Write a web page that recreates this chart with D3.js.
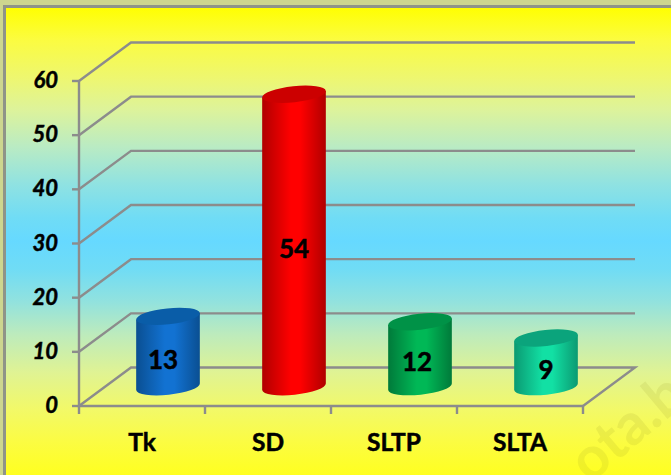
<!DOCTYPE html>
<html>

<head>
    <meta charset="utf-8">
    <title>3D Cylinder Chart</title>
    <script src="https://d3js.org/d3.v7.min.js"></script>
    <style>
        html, body {
            margin: 0;
            padding: 0;
            background: #cdd68f;
            overflow: hidden;
        }

        svg {
            display: block;
            font-family: Lato, sans-serif;
            font-weight: 700;
        }

        .grid {
            fill: none;
            stroke: #8c8c8c;
            stroke-width: 2.4;
        }

        .ylabel, .xlabel, .value {
            stroke: #000;
            stroke-width: 0.5;
        }
    </style>
</head>

<body>
    <svg width="671" height="475"></svg>

    <script>
        const categories = ["Tk", "SD", "SLTP", "SLTA"];
        const values = [13, 54, 12, 9];
        const yTicks = [0, 10, 20, 30, 40, 50, 60];
        const barLight = ["#1272d2", "#ff0000", "#00b856", "#12e0a4"];
        const barDark = ["#0a4f92", "#b00000", "#007a3a", "#0b9a72"];
        const barTop = ["#0a5da8", "#cc0000", "#009247", "#0ba47c"];

        const svg = d3.select("svg");

        const x = d3.scaleBand().domain(categories).range([79, 583]);
        const y = d3.scaleLinear().domain([0, 60]).range([406, 81]);

        // depth of the fake 3D box
        const dx = 52, dy = -38.5;
        const rx = 32, ry = 8, tilt = -6;

        // value labels are not quite centred in the original
        const labelNudge = [-5, 0, -3, 0];

        const defs = svg.append("defs");

        // office style gradient, goes through pale green instead of saturated green
        const bg = defs.append("linearGradient").attr("id", "bg")
            .attr("gradientUnits", "userSpaceOnUse")
            .attr("x1", 0).attr("y1", 7).attr("x2", 0).attr("y2", 475);
        const bgStops = [
            [0, "#ffff00"], [0.07, "#fbfc40"], [0.15, "#eef76f"], [0.22, "#ddf39b"],
            [0.3, "#b9ebc4"], [0.38, "#8fe2e2"], [0.45, "#70dcf5"], [0.5, "#66d9ff"],
            [0.56, "#70dcf5"], [0.63, "#92e2de"], [0.7, "#bdebbc"], [0.78, "#dff394"],
            [0.86, "#f2f968"], [0.93, "#fbfc42"], [1, "#ffff20"]
        ];
        bgStops.forEach(s => bg.append("stop").attr("offset", s[0]).attr("stop-color", s[1]));

        categories.forEach((c, i) => {
            const g = defs.append("linearGradient").attr("id", "bar" + i)
                .attr("x1", 0).attr("y1", 0).attr("x2", 1).attr("y2", 0);
            g.append("stop").attr("offset", "0%").attr("stop-color", barDark[i]);
            g.append("stop").attr("offset", "45%").attr("stop-color", barLight[i]);
            g.append("stop").attr("offset", "60%").attr("stop-color", barLight[i]);
            g.append("stop").attr("offset", "100%").attr("stop-color", barDark[i]);
        });

        // background panel, runs off the right and bottom edge
        svg.append("rect")
            .attr("x", 4.5).attr("y", 6.5)
            .attr("width", 680).attr("height", 480)
            .attr("fill", "url(#bg)")
            .attr("stroke", "#8f9488")
            .attr("stroke-width", 3);

        // watermark, cut off in the original
        svg.append("text")
            .attr("transform", "translate(590,484) rotate(-40)")
            .attr("font-size", 58)
            .attr("fill", "#8a8a20")
            .attr("fill-opacity", 0.12)
            .text("ota.b");

        // gridlines: side wall and back wall
        yTicks.forEach(t => {
            const yFront = y(t);
            const line = t === 0
                ? [[x.range()[0], yFront], [x.range()[0] + dx, yFront + dy], [x.range()[1] + dx, yFront + dy], [x.range()[1], yFront]]
                : [[x.range()[0], yFront], [x.range()[0] + dx, yFront + dy], [x.range()[1] + dx, yFront + dy]];
            svg.append("path").attr("class", "grid").attr("d", d3.line()(line));
        });

        // axis lines and ticks
        svg.append("path").attr("class", "grid")
            .attr("d", d3.line()([[x.range()[0], y(60)], [x.range()[0], y(0)], [x.range()[1], y(0)]]));

        svg.selectAll(".ytick").data(yTicks).enter().append("path")
            .attr("class", "grid ytick")
            .attr("d", d => d3.line()([[x.range()[0] - 7, y(d)], [x.range()[0], y(d)]]));

        const xEdges = categories.map(c => x(c)).concat([x.range()[1]]);
        svg.selectAll(".xtick").data(xEdges).enter().append("path")
            .attr("class", "grid xtick")
            .attr("d", d => d3.line()([[d, y(0)], [d, y(0) + 8]]));

        svg.selectAll(".ylabel").data(yTicks).enter().append("text")
            .attr("class", "ylabel")
            .attr("x", 58)
            .attr("y", d => y(d) + 7)
            .attr("text-anchor", "end")
            .attr("font-size", 22)
            .attr("font-style", "italic")
            .attr("fill", "#000")
            .text(d => d);

        svg.selectAll(".xlabel").data(categories).enter().append("text")
            .attr("class", "xlabel")
            .attr("x", d => x(d) + x.bandwidth() / 2)
            .attr("y", 451)
            .attr("text-anchor", "middle")
            .attr("font-size", 24.5)
            .attr("fill", "#000")
            .text(d => d);

        // cylinders
        const rad = tilt * Math.PI / 180;
        const ox = rx * Math.cos(rad), oy = rx * Math.sin(rad);
        const cx = d => x(d) + x.bandwidth() / 2 + dx / 2;
        const base = y(0) + dy / 2;

        const bars = svg.selectAll(".bar").data(categories).enter().append("g").attr("class", "bar");

        bars.append("path")
            .attr("fill", (d, i) => "url(#bar" + i + ")")
            .attr("d", (d, i) => {
                const top = base - (y(0) - y(values[i]));
                return "M" + (cx(d) - ox) + "," + (top - oy)
                    + "L" + (cx(d) - ox) + "," + (base - oy)
                    + "A" + rx + "," + ry + " " + tilt + " 0 0 " + (cx(d) + ox) + "," + (base + oy)
                    + "L" + (cx(d) + ox) + "," + (top + oy)
                    + "Z";
            });

        bars.append("ellipse")
            .attr("rx", rx)
            .attr("ry", ry)
            .attr("fill", (d, i) => barTop[i])
            .attr("transform", (d, i) => "translate(" + cx(d) + "," + (base - (y(0) - y(values[i]))) + ") rotate(" + tilt + ")");

        // value labels
        bars.append("text")
            .attr("class", "value")
            .attr("x", (d, i) => cx(d) + labelNudge[i])
            .attr("y", (d, i) => (base + base - (y(0) - y(values[i]))) / 2 + 17)
            .attr("text-anchor", "middle")
            .attr("font-size", 26)
            .attr("fill", "#000")
            .text((d, i) => values[i]);
    </script>
</body>

</html>
